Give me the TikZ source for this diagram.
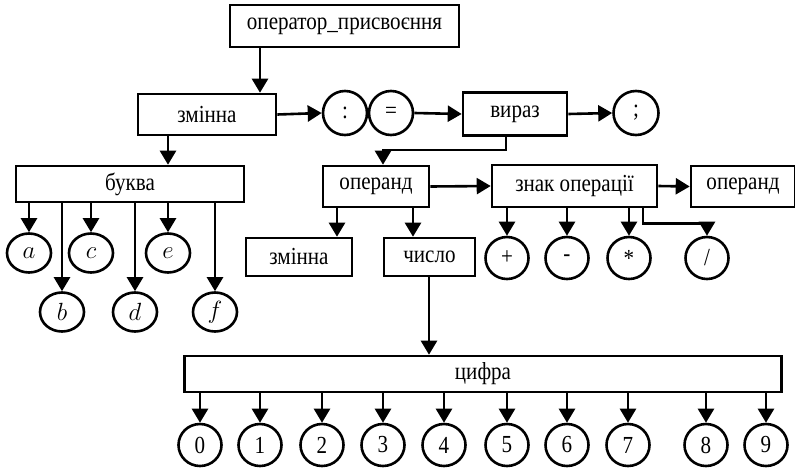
\documentclass[tikz,border=0pt]{standalone}
\usepackage{fontspec}
\setmainfont{Liberation Serif}[FakeStretch=0.86]
\usetikzlibrary{arrows.meta,shapes.geometric}
\tikzset{
  box/.style={draw, line width=2.6pt, inner sep=0pt, font=\fontsize{24.5}{27}\selectfont},
  term/.style={draw, ellipse, line width=2.6pt, inner sep=0pt, minimum width=43pt, minimum height=42pt, font=\fontsize{24.5}{27}\selectfont},
  letter/.style={term, minimum width=44pt, minimum height=39pt},
  arr/.style={-{Triangle[length=14pt,width=16pt]}, line width=2.6pt},
}
\begin{document}
\begin{tikzpicture}[x=1pt, y=-1pt]
  \useasboundingbox (0,0) rectangle (795,469);

  %--- Assignment statement ---
  \node[box, minimum width=229pt, minimum height=42pt] (top) at (344.5,26) {оператор\_присвоєння};
  \node[box, minimum width=138pt, minimum height=41pt] (zminna) at (207,114.5) {змінна};
  \node[term, minimum width=44pt, minimum height=44pt] (colon) at (345,113) {:};
  \node[term, minimum width=44pt, minimum height=44pt] (eq) at (391,113) {=};
  \node[box, minimum width=104pt, minimum height=43pt] (vyraz) at (515,114) {вираз};
  \node[term, minimum width=45pt, minimum height=44pt] (semi) at (636,113) {;};

  \draw[arr] (top.south -| 260,0) -- (zminna.north -| 260,0);
  \draw[arr] (zminna.east) -- (colon.west);
  \draw[arr] (eq.east) -- (vyraz.west);
  \draw[arr] (vyraz.east) -- (semi.west);

  %--- Letters ---
  \node[box, minimum width=228pt, minimum height=36pt] (bukva) at (130,184) {буква};
  \node[letter] (a) at (29,253) {$a$};
  \node[letter] (b) at (62,312) {$b$};
  \node[letter] (c) at (91,253) {$c$};
  \node[letter] (d) at (135,312) {$d$};
  \node[letter] (e) at (168,253) {$e$};
  \node[letter] (f) at (215,312) {$f$};

  \draw[arr] (zminna.south -| 168,0) -- (bukva.north -| 168,0);
  \draw[arr] (bukva.south -| a) -- (a.north);
  \draw[arr] (bukva.south -| b) -- (b.north);
  \draw[arr] (bukva.south -| c) -- (c.north);
  \draw[arr] (bukva.south -| d) -- (d.north);
  \draw[arr] (bukva.south -| e) -- (e.north);
  \draw[arr] (bukva.south -| f) -- (f.north);

  %--- Expression ---
  \node[box, minimum width=106pt, minimum height=41pt] (operand) at (376,186.5) {операнд};
  \node[box, minimum width=165pt, minimum height=42pt] (znak) at (574.5,186) {знак операції};
  \node[box, minimum width=104pt, minimum height=41pt] (operandb) at (743,186.5) {операнд};
  \node[box, minimum width=106pt, minimum height=38pt] (zminnab) at (299,257) {змінна};
  \node[box, minimum width=91pt, minimum height=38pt] (chyslo) at (429.5,257) {число};

  \draw[arr] (vyraz.south -| 506,0) -- ++(0,13) -| (operand.north -| 383,0);
  \draw[arr] (operand.east) -- (znak.west);
  \draw[arr] (znak.east) -- (operandb.west);
  \draw[arr] (operand.south -| 337,0) -- (zminnab.north -| 337,0);
  \draw[arr] (operand.south -| 413,0) -- (chyslo.north -| 413,0);

  % Operation signs
  \node[term] (plus) at (507,258) {+};
  \node[term] (minus) at (567,258) {-};
  \node[term] (star) at (629,258) {*};
  \node[term] (slash) at (707,258) {/};

  \draw[arr] (znak.south -| plus) -- (plus.north);
  \draw[arr] (znak.south -| minus) -- (minus.north);
  \draw[arr] (znak.south -| star) -- (star.north);
  \draw[arr] (znak.south -| 643,0) -- ++(0,15) -| (slash.north);

  %--- Digits ---
  \node[box, minimum width=597pt, minimum height=36pt] (tsyfra) at (483,374) {цифра};
  \draw[arr] (chyslo.south -| 429,0) -- (tsyfra.north -| 429,0);

  \node[term] (d0) at (200,445) {0};
  \node[term] (d1) at (260,445) {1};
  \node[term] (d2) at (322,445) {2};
  \node[term] (d3) at (383,445) {3};
  \node[term] (d4) at (444,445) {4};
  \node[term] (d5) at (507,445) {5};
  \node[term] (d6) at (567,445) {6};
  \node[term] (d7) at (628,445) {7};
  \node[term] (d8) at (706,445) {8};
  \node[term] (d9) at (766,445) {9};

  \draw[arr] (tsyfra.south -| d0) -- (d0.north);
  \draw[arr] (tsyfra.south -| d1) -- (d1.north);
  \draw[arr] (tsyfra.south -| d2) -- (d2.north);
  \draw[arr] (tsyfra.south -| d3) -- (d3.north);
  \draw[arr] (tsyfra.south -| d4) -- (d4.north);
  \draw[arr] (tsyfra.south -| d5) -- (d5.north);
  \draw[arr] (tsyfra.south -| d6) -- (d6.north);
  \draw[arr] (tsyfra.south -| d7) -- (d7.north);
  \draw[arr] (tsyfra.south -| d8) -- (d8.north);
  \draw[arr] (tsyfra.south -| d9) -- (d9.north);
\end{tikzpicture}
\end{document}
